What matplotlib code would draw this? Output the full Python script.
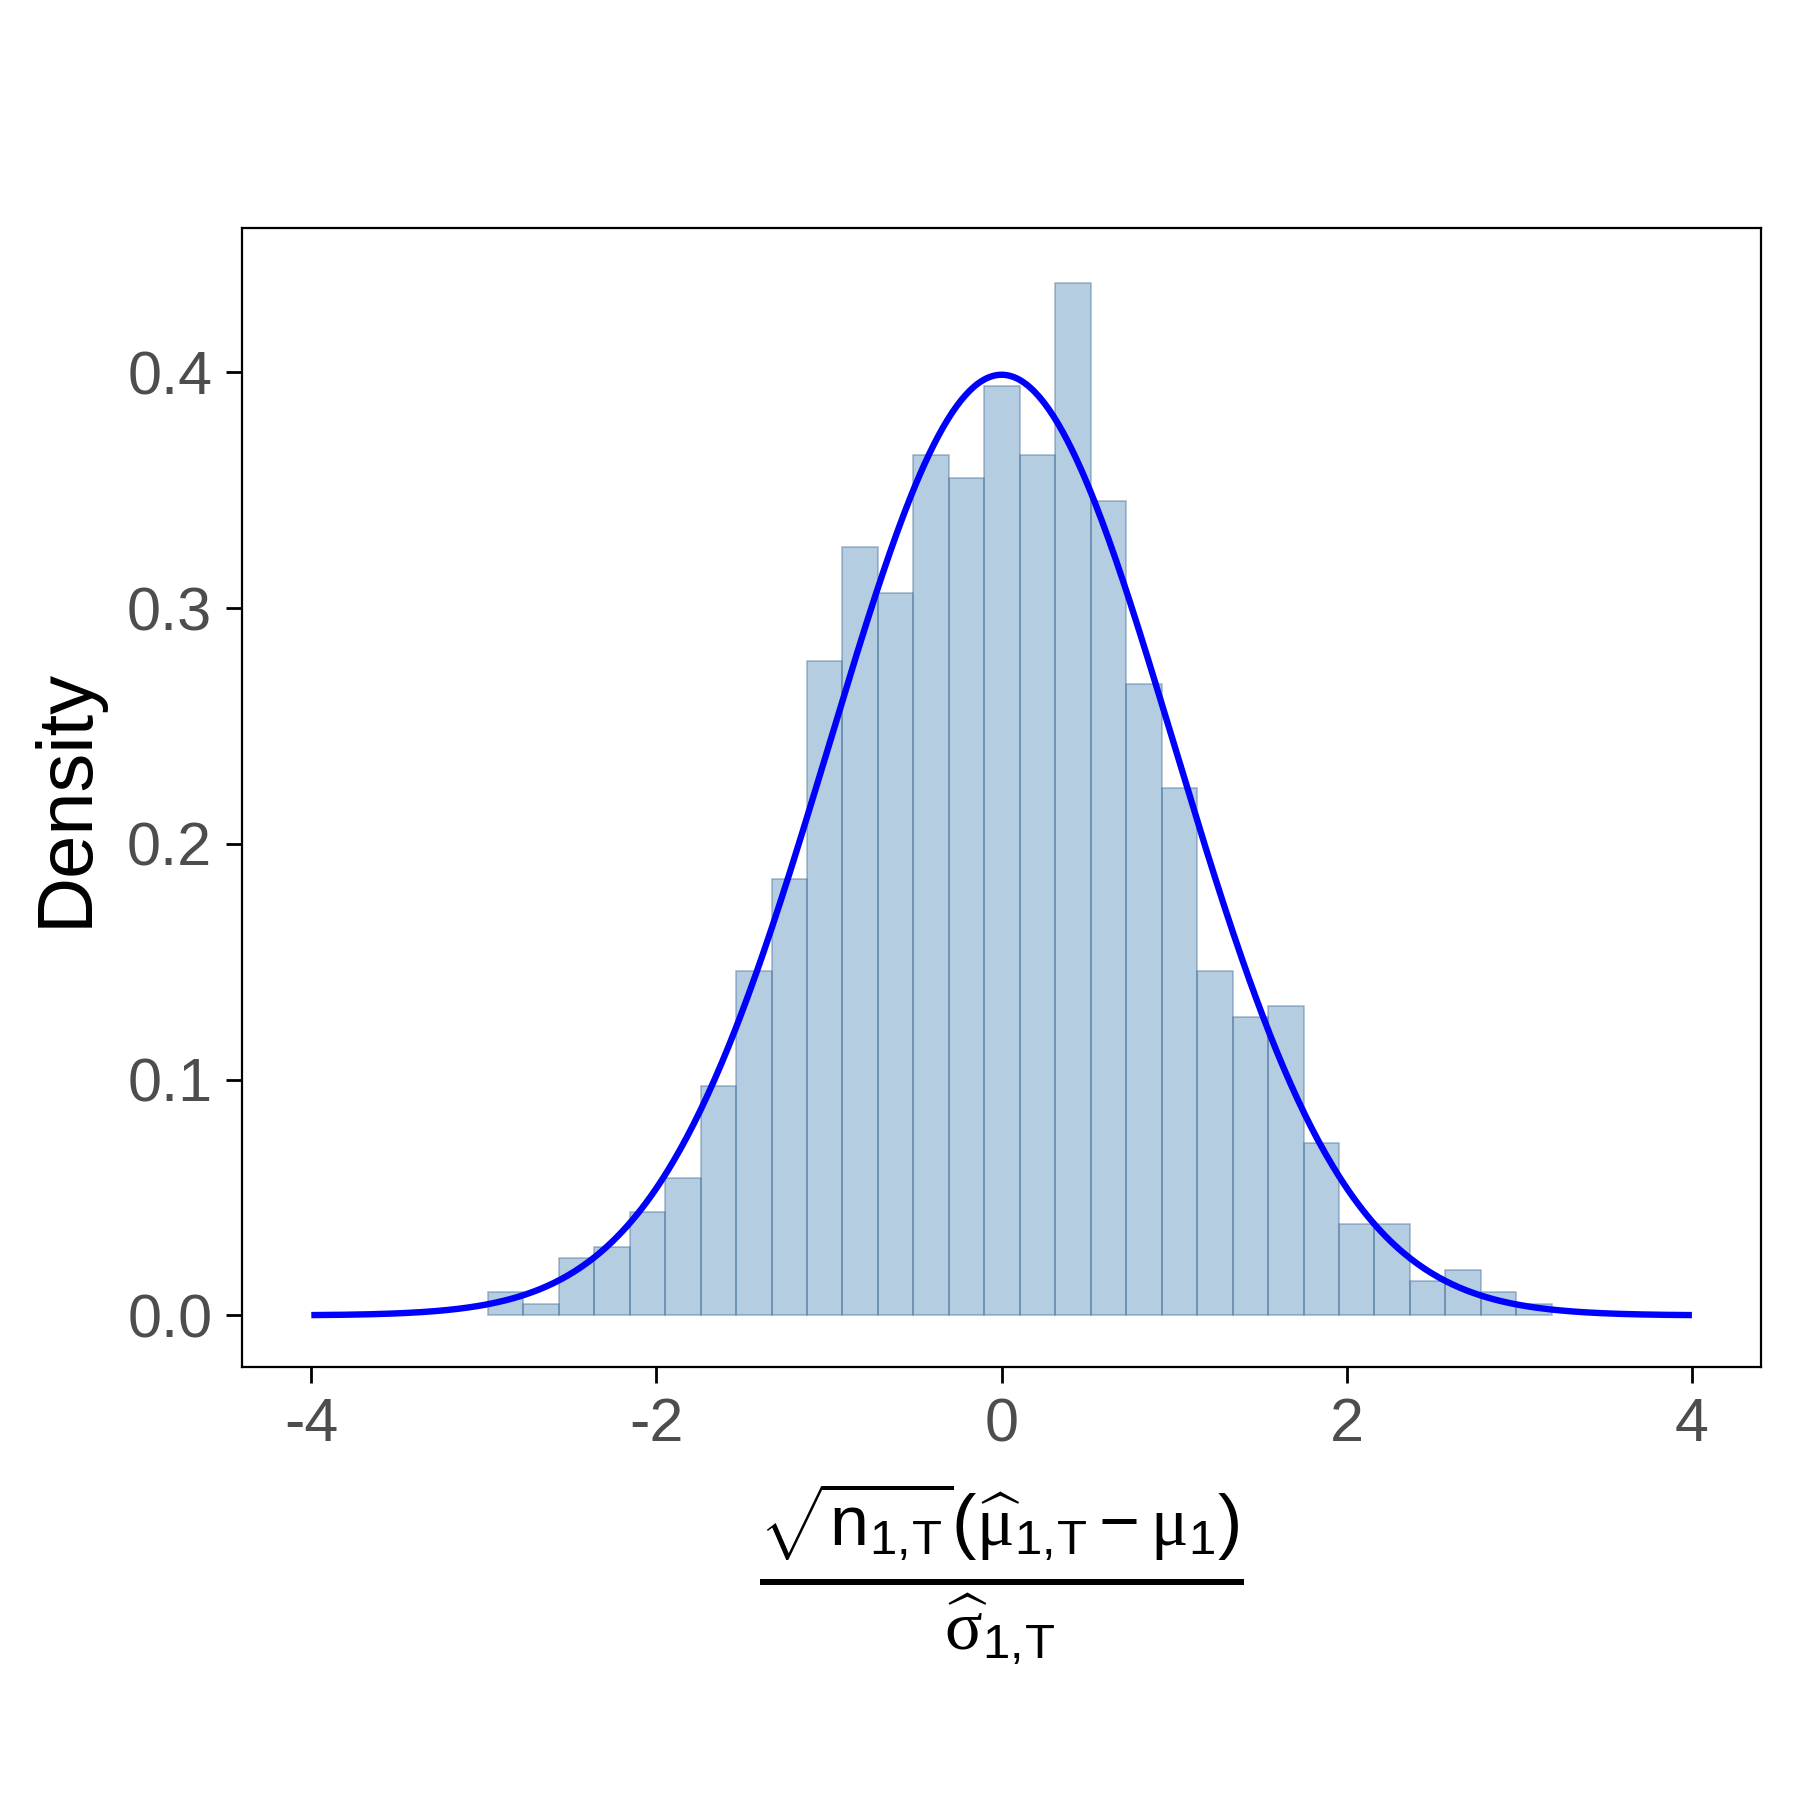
import numpy as np
import matplotlib
matplotlib.use('Agg')
import matplotlib.pyplot as plt

# histogram of the standardised estimator (1000 replications, 30 bins)
bin_start = -2.977
bin_width = 0.2055
counts = [2, 1, 5, 6, 9, 12, 20, 30, 38, 57, 67, 63, 75, 73, 81,
          75, 90, 71, 55, 46, 30, 26, 27, 15, 8, 8, 3, 4, 2, 1]

# reference N(0,1) density drawn over [-4, 4]
curve_from = -4
curve_to = 4

x_ticks = [-4, -2, 0, 2, 4]
y_ticks = [0.0, 0.1, 0.2, 0.3, 0.4]

plt.rcParams['font.family'] = ['Liberation Sans', 'DejaVu Sans']
plt.rcParams['mathtext.fontset'] = 'custom'
plt.rcParams['mathtext.rm'] = 'Liberation Sans'
plt.rcParams['mathtext.it'] = 'Liberation Serif'
plt.rcParams['mathtext.bf'] = 'Liberation Sans:bold'

counts = np.array(counts, dtype=float)
lefts = bin_start + bin_width * np.arange(len(counts))
density = counts / (counts.sum() * bin_width)

fig = plt.figure(figsize=(9, 9), dpi=200)
ax = fig.add_axes([0.1346, 0.2404, 0.8437, 0.6327])

ax.bar(lefts, density, width=bin_width, align='edge',
       color=(70/255, 130/255, 180/255, 0.4),
       edgecolor=(70/255, 110/255, 150/255, 0.45), linewidth=0.6)

xs = np.linspace(curve_from, curve_to, 600)
ys = np.exp(-xs ** 2 / 2) / np.sqrt(2 * np.pi)
ax.plot(xs, ys, color='#0000FF', lw=2.3, solid_capstyle='butt')

ax.set_xlim(-4.4, 4.4)
ax.set_ylim(-0.022, 0.461)
ax.set_xticks(x_ticks)
ax.set_xticklabels([str(t) for t in x_ticks])
ax.set_yticks(y_ticks)
ax.set_yticklabels(['%.1f' % t for t in y_ticks])

ax.tick_params(axis='both', direction='out', length=5.8, width=1.0,
               color='black', labelsize=22, labelcolor='#4D4D4D')
ax.tick_params(axis='x', pad=5)
ax.tick_params(axis='y', pad=5)
for s in ax.spines.values():
    s.set_linewidth(0.8)
    s.set_color('black')

ax.set_ylabel('Density', fontsize=28, color='black')
ax.yaxis.set_label_coords(-0.1157, 0.5)
ax.yaxis.label.set_va('center')

ax.set_xlabel(r'$\frac{\sqrt{\mathrm{n}_{1,\!\mathrm{T}}}\left(\widehat{\mu}_{1,\!\mathrm{T}}-\mu_1\right)}'
              r'{\widehat{\sigma}_{1,\!\mathrm{T}}}$', fontsize=36, color='black')
ax.xaxis.set_label_coords(0.5, -0.181)
ax.xaxis.label.set_va('center')

fig.savefig('out.png', dpi=200, facecolor='white')
